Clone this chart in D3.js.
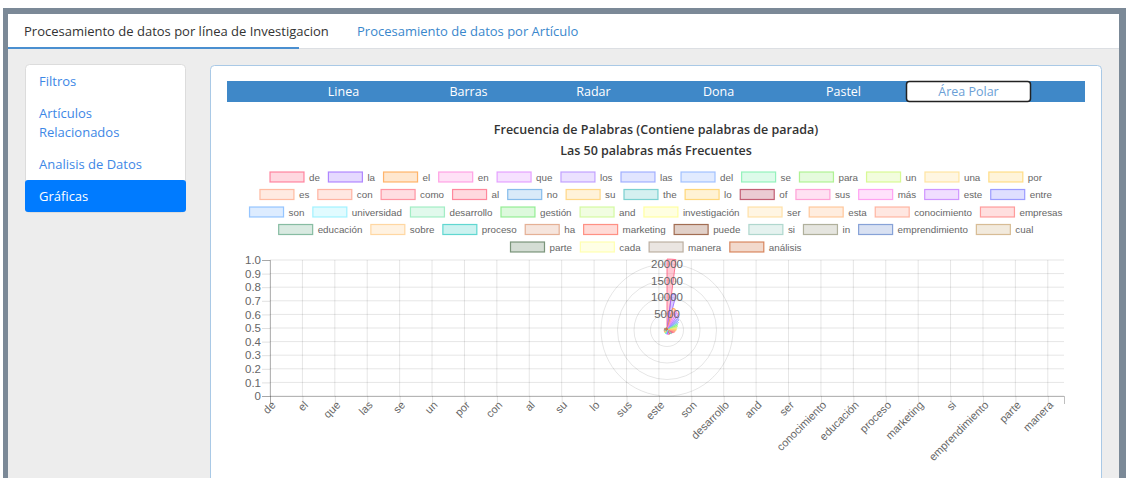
<!DOCTYPE html>
<html>
<head>
<meta charset="utf-8">
<script src="https://cdn.jsdelivr.net/npm/d3@7"></script>
<style>
    body { margin: 0; background: #fff; overflow: hidden; }
    .ui { font-family: "Open Sans", sans-serif; }
    .cj { font-family: "Liberation Sans", Arial, sans-serif; fill: #666; }
</style>
</head>
<body>
<svg id="page" width="1129" height="478"></svg>
<script>
// page texts
const tabs = ['Procesamiento de datos por línea de Investigacion', 'Procesamiento de datos por Artículo'];
const menu = [['Filtros'], ['Artículos', 'Relacionados'], ['Analisis de Datos'], ['Gráficas']];
const chartTypes = ['Linea', 'Barras', 'Radar', 'Dona', 'Pastel', 'Área Polar'];
const titles = ['Frecuencia de Palabras (Contiene palabras de parada)', 'Las 50 palabras más Frecuentes'];

// chart data
const words = ['de', 'la', 'el', 'en', 'que', 'los', 'las', 'del', 'se', 'para', 'un', 'una', 'por',
    'es', 'con', 'como', 'al', 'no', 'su', 'the', 'lo', 'of', 'sus', 'más', 'este', 'entre',
    'son', 'universidad', 'desarrollo', 'gestión', 'and', 'investigación', 'ser', 'esta', 'conocimiento', 'empresas',
    'educación', 'sobre', 'proceso', 'ha', 'marketing', 'puede', 'si', 'in', 'emprendimiento', 'cual',
    'parte', 'cada', 'manera', 'análisis'];
const counts = [21500, 11000, 6800, 6300, 5900, 5400, 4700, 4100, 3600, 3300, 3000, 2900, 2750,
    2500, 2350, 2050, 1800, 1650, 1550, 1500, 1450, 1400, 1350, 1300, 1250, 1200,
    1150, 1100, 1060, 1020, 990, 960, 940, 920, 900, 880,
    860, 840, 820, 800, 780, 760, 740, 720, 700, 690,
    680, 670, 660, 650];
const colors = ['#ff6384', '#9966ff', '#ff9f40', '#ff88dd', '#dd88ff', '#b088ff', '#8899ff', '#88b0ff', '#77eeaa', '#99ee77', '#ccf777', '#ffdd88', '#ffd466',
    '#ffaa88', '#ff9f88', '#ff7788', '#ff6680', '#66aae6', '#ffcc66', '#55c4c4', '#ffcc55', '#b0304c', '#ff88cc', '#ff88ee', '#c277ff', '#8080ff',
    '#77b4ff', '#88eeff', '#88e8b4', '#77e877', '#c8f788', '#ffff88', '#ffd890', '#ffb880', '#ffa088', '#ff8080',
    '#66aa88', '#ffcc88', '#33ccc4', '#dd9977', '#ff7060', '#884422', '#99ccc0', '#999980', '#6688cc', '#ccaa77',
    '#557755', '#ffff99', '#aa9988', '#cc6633'];
const yTicks = [0, 0.1, 0.2, 0.3, 0.4, 0.5, 0.6, 0.7, 0.8, 0.9, 1.0];
const rTicks = [5000, 10000, 15000, 20000];

const svg = d3.select('#page');

// frame and header
svg.append('rect').attr('x', 3).attr('y', 8).attr('width', 1123).attr('height', 470).attr('fill', '#7b8997');
svg.append('rect').attr('x', 8).attr('y', 14).attr('width', 1111).attr('height', 464).attr('fill', '#ededed');
svg.append('rect').attr('x', 8).attr('y', 14).attr('width', 1111).attr('height', 34).attr('fill', '#fff');
svg.append('rect').attr('x', 8).attr('y', 48).attr('width', 1111).attr('height', 1).attr('fill', '#dcdfe3');
svg.append('rect').attr('x', 8).attr('y', 47).attr('width', 291).attr('height', 2).attr('fill', '#4a8fd0');
svg.selectAll('.tab').data(tabs).enter().append('text')
    .attr('class', 'ui')
    .attr('x', (d, i) => i === 0 ? 24 : 357)
    .attr('y', 36)
    .attr('font-size', 13)
    .attr('fill', (d, i) => i === 0 ? '#333' : '#3a87cc')
    .text(d => d);

// sidebar
svg.append('rect').attr('x', 25.5).attr('y', 64.5).attr('width', 160).attr('height', 148).attr('rx', 4)
    .attr('fill', '#fff').attr('stroke', '#dcdcdc');
svg.append('rect').attr('x', 25).attr('y', 180).attr('width', 161).attr('height', 32).attr('rx', 3).attr('fill', '#007bff');
let my = 86;
menu.forEach((lines, i) => {
    lines.forEach((line, j) => {
        svg.append('text').attr('class', 'ui')
            .attr('x', 39).attr('y', my + j * 19)
            .attr('font-size', 13)
            .attr('fill', i === menu.length - 1 ? '#fff' : '#3d87e6')
            .text(line);
    });
    my += 32 + (lines.length - 1) * 19;
});

// main card
svg.append('rect').attr('x', 210.5).attr('y', 65.5).attr('width', 891).attr('height', 430).attr('rx', 4)
    .attr('fill', '#fff').attr('stroke', '#a9c9e6');
svg.append('rect').attr('x', 227).attr('y', 81).attr('width', 858).attr('height', 21).attr('fill', '#3f88c8');

const nav = d3.scaleBand().domain(chartTypes).range([281, 1031]);
const active = chartTypes[chartTypes.length - 1];
svg.append('rect').attr('x', nav(active) + 0.5).attr('y', 81.5).attr('width', nav.bandwidth() - 1).attr('height', 20)
    .attr('rx', 3).attr('fill', '#fff').attr('stroke', '#222').attr('stroke-width', 1.5);
svg.selectAll('.nav').data(chartTypes).enter().append('text')
    .attr('class', 'ui')
    .attr('x', d => nav(d) + nav.bandwidth() / 2)
    .attr('y', 96)
    .attr('text-anchor', 'middle')
    .attr('font-size', 12.5)
    .attr('fill', d => d === active ? '#6c9fd6' : '#fff')
    .text(d => d);

// chart titles
svg.selectAll('.title').data(titles).enter().append('text')
    .attr('class', 'ui')
    .attr('x', 656)
    .attr('y', (d, i) => 134 + i * 21)
    .attr('text-anchor', 'middle')
    .attr('font-size', 12.5)
    .attr('font-weight', 600)
    .attr('fill', '#333')
    .text(d => d);

// legend
const boxW = 34, boxH = 10, gap = 5, pad = 8.5, maxW = 822;
const legend = svg.append('g');
const items = legend.selectAll('g').data(words).enter().append('g');
items.append('rect')
    .attr('width', boxW).attr('height', boxH).attr('y', -boxH / 2)
    .attr('fill', (d, i) => d3.color(colors[i]).copy({opacity: 0.25}))
    .attr('stroke', (d, i) => d3.color(colors[i]).copy({opacity: 0.75}))
    .attr('stroke-width', 1.2);
items.append('text')
    .attr('class', 'cj')
    .attr('x', boxW + gap).attr('y', 3.5)
    .attr('font-size', 9.8)
    .text(d => d);
const widths = [];
items.each(function () { widths.push(boxW + gap + d3.select(this).select('text').node().getComputedTextLength()); });
const rows = [[]];
let lineW = 0;
widths.forEach((w, i) => {
    if (rows[rows.length - 1].length && lineW + pad + w > maxW) { rows.push([]); lineW = 0; }
    lineW += (rows[rows.length - 1].length ? pad : 0) + w;
    rows[rows.length - 1].push(i);
});
rows.forEach((row, r) => {
    const total = d3.sum(row, i => widths[i]) + pad * (row.length - 1);
    let x = 656 - total / 2;
    row.forEach(i => {
        d3.select(items.nodes()[i]).attr('transform', `translate(${x},${177 + r * 17.5})`);
        x += widths[i] + pad;
    });
});

// cartesian axes left behind by the chart
const x = d3.scalePoint().domain(words).range([270, 1064]);
const y = d3.scaleLinear().domain([0, 1]).range([396, 260]);
const shown = words.filter((d, i) => i % 2 === 0);

svg.append('g').selectAll('line').data(yTicks).enter().append('line')
    .attr('x1', 270).attr('x2', 1064)
    .attr('y1', d => y(d)).attr('y2', d => y(d))
    .attr('stroke', 'rgba(0,0,0,0.1)');
svg.append('g').selectAll('line').data(shown).enter().append('line')
    .attr('x1', d => x(d)).attr('x2', d => x(d))
    .attr('y1', 260).attr('y2', 396)
    .attr('stroke', 'rgba(0,0,0,0.1)');

const yAxis = svg.append('g').attr('transform', 'translate(270,0)')
    .call(d3.axisLeft(y).tickValues(yTicks).tickSize(8).tickPadding(1)
        .tickFormat(d => d === 0 ? '0' : d3.format('.1f')(d)));
const xAxis = svg.append('g').attr('transform', 'translate(0,396)')
    .call(d3.axisBottom(x).tickValues(shown).tickSize(8).tickPadding(2));
[yAxis, xAxis].forEach(g => {
    g.select('.domain').attr('stroke', 'rgba(0,0,0,0.25)');
    g.selectAll('.tick line').attr('stroke', 'rgba(0,0,0,0.12)');
    g.selectAll('text').attr('class', 'cj').attr('fill', '#666').attr('font-size', 11.5);
});
xAxis.selectAll('text')
    .attr('font-size', 11)
    .attr('text-anchor', 'end')
    .attr('y', 0)
    .attr('dy', '0.35em')
    .attr('transform', 'translate(3,7) rotate(-45)');

// polar area
const cx = 667, cy = 330;
const r = d3.scaleLinear().domain([0, 20000]).range([0, 66]);
const polar = svg.append('g').attr('transform', `translate(${cx},${cy})`);
polar.selectAll('circle').data(rTicks).enter().append('circle')
    .attr('r', d => r(d)).attr('fill', 'none').attr('stroke', 'rgba(0,0,0,0.1)');
const step = 2 * Math.PI / words.length;
const arc = d3.arc().innerRadius(0).outerRadius(d => r(d.v))
    .startAngle(d => d.i * step).endAngle(d => (d.i + 1) * step);
polar.selectAll('path').data(counts.map((v, i) => ({v, i}))).enter().append('path')
    .attr('d', arc)
    .attr('fill', d => d3.color(colors[d.i]).copy({opacity: 0.35}))
    .attr('stroke', d => d3.color(colors[d.i]).copy({opacity: 0.85}))
    .attr('stroke-width', 1);
polar.selectAll('text').data(rTicks).enter().append('text')
    .attr('class', 'cj')
    .attr('y', d => -r(d) + 4)
    .attr('text-anchor', 'middle')
    .attr('font-size', 11.5)
    .text(d => d);
</script>
</body>
</html>
